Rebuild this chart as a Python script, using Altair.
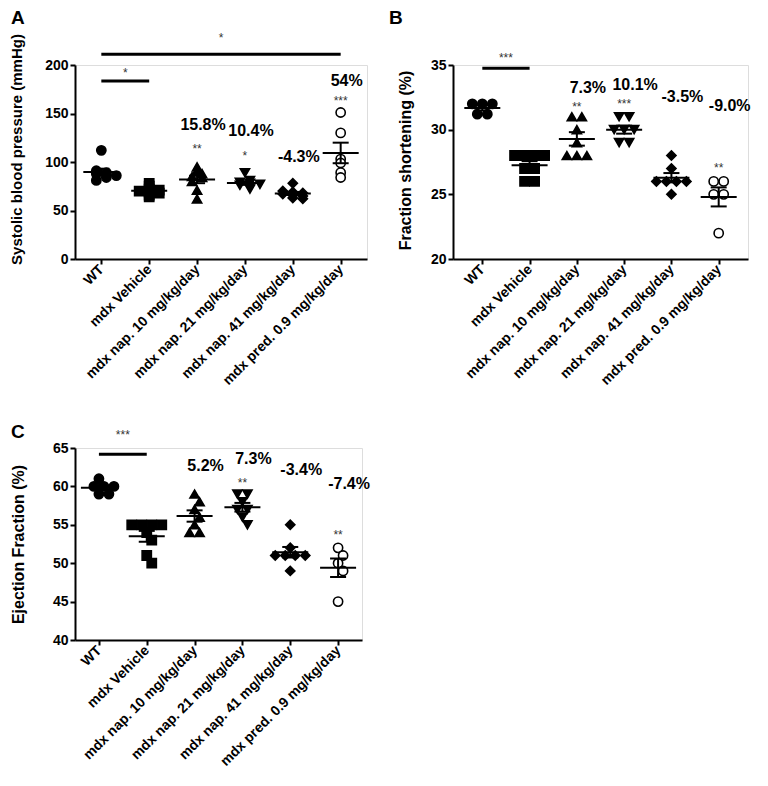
import altair as alt
import pandas as pd

FONT = "Liberation Sans"

groups = ["WT", "mdx Vehicle", "mdx nap. 10 mg/kg/day", "mdx nap. 21 mg/kg/day",
          "mdx nap. 41 mg/kg/day", "mdx pred. 0.9 mg/kg/day"]
shapes = ["circle", "square", "triangle-up", "triangle-down", "diamond", "circle"]
fills = ["black", "black", "black", "black", "black", "white"]

# Panel A: systolic blood pressure (mmHg)
sbp_wt = [112, 91, 89, 88, 87, 86, 84, 81]
sbp_veh = [78, 75, 72, 71, 70, 69, 68, 66, 64]
sbp_n10 = [95, 91, 88, 85, 84, 80, 71, 62]
sbp_n21 = [89, 81, 79, 78, 77, 76, 74, 72]
sbp_n41 = [78, 70, 69, 68, 67, 66, 65, 63, 62]
sbp_pred = [151, 130, 103, 99, 89, 84]

# Panel B: fraction shortening (%)
fs_wt = [32, 32, 32, 31.2, 31.2]
fs_veh = [28, 28, 28, 28, 27, 27, 26, 26]
fs_n10 = [31, 31, 30, 29, 28, 28, 28]
fs_n21 = [31, 31, 30, 30, 30, 29, 29]
fs_n41 = [28, 27, 26, 26, 26, 26, 25]
fs_pred = [26, 26, 25, 25, 22]

# Panel C: ejection fraction (%)
ef_wt = [61, 60, 60, 60, 59, 59]
ef_veh = [55, 55, 55, 55, 54, 53, 51, 50]
ef_n10 = [59, 58, 57, 56, 55, 54, 54]
ef_n21 = [59, 59, 58, 57, 57, 56, 55]
ef_n41 = [55, 52, 51, 51, 51, 51, 49]
ef_pred = [52, 51, 50, 49, 45]

# annotations
a_pct_groups = ["mdx nap. 10 mg/kg/day", "mdx nap. 21 mg/kg/day", "mdx nap. 41 mg/kg/day", "mdx pred. 0.9 mg/kg/day"]
a_pct_text = ["15.8%", "10.4%", "-4.3%", "54%"]
a_pct_y = [138, 132, 105, 183]
a_star_groups = ["mdx nap. 10 mg/kg/day", "mdx nap. 21 mg/kg/day", "mdx pred. 0.9 mg/kg/day"]
a_star_text = ["**", "*", "***"]
a_star_y = [117, 109, 166]
a_line_from = ["WT", "WT"]
a_line_to = ["mdx Vehicle", "mdx pred. 0.9 mg/kg/day"]
a_line_y = [183.5, 211]
a_line_star_anchor = ["WT", "mdx nap. 10 mg/kg/day"]
a_line_star_text = ["*", "*"]
a_line_star_y = [195, 231]

b_pct_groups = ["mdx nap. 10 mg/kg/day", "mdx nap. 21 mg/kg/day", "mdx nap. 41 mg/kg/day", "mdx pred. 0.9 mg/kg/day"]
b_pct_text = ["7.3%", "10.1%", "-3.5%", "-9.0%"]
b_pct_y = [33.2, 33.45, 32.5, 31.8]
b_star_groups = ["mdx nap. 10 mg/kg/day", "mdx nap. 21 mg/kg/day", "mdx pred. 0.9 mg/kg/day"]
b_star_text = ["**", "***", "**"]
b_star_y = [31.95, 32.2, 27.3]
b_line_from = ["WT"]
b_line_to = ["mdx Vehicle"]
b_line_y = [34.74]
b_line_star_anchor = ["WT"]
b_line_star_text = ["***"]
b_line_star_y = [35.8]

c_pct_groups = ["mdx nap. 10 mg/kg/day", "mdx nap. 21 mg/kg/day", "mdx nap. 41 mg/kg/day", "mdx pred. 0.9 mg/kg/day"]
c_pct_text = ["5.2%", "7.3%", "-3.4%", "-7.4%"]
c_pct_y = [62.65, 63.6, 62.1, 60.3]
c_star_groups = ["mdx nap. 21 mg/kg/day", "mdx pred. 0.9 mg/kg/day"]
c_star_text = ["**", "**"]
c_star_y = [60.8, 54.0]
c_line_from = ["WT"]
c_line_to = ["mdx Vehicle"]
c_line_y = [64.2]
c_line_star_anchor = ["WT"]
c_line_star_text = ["***"]
c_line_star_y = [67.1]


def swarm(vals, ppu, binw, d=10.0):
    """GraphPad-like scatter: points in the same value row are spread symmetrically."""
    order = sorted(range(len(vals)), key=lambda i: -vals[i])
    rows = []
    for i in order:
        key = round(vals[i] / binw)
        if rows and rows[-1][0] == key:
            rows[-1][1].append(i)
        else:
            rows.append((key, [i]))
    offs = [0.0] * len(vals)
    placed = []
    for key, idx in rows:
        k = len(idx)
        base = [(j - (k - 1) / 2) * d for j in range(k)]
        best = None
        for shift in (0.0, d / 2, -d / 2):
            coll = 0
            for j, ii in enumerate(idx):
                for (px, py) in placed:
                    dx = base[j] + shift - px
                    dy = vals[ii] * ppu - py
                    if dx * dx + dy * dy < (0.8 * d) ** 2:
                        coll += 1
            if best is None or coll < best[0]:
                best = (coll, shift)
        for j, ii in enumerate(idx):
            offs[ii] = base[j] + best[1]
            placed.append((offs[ii], vals[ii] * ppu))
    return offs


def panel(series, domain, tickvals, title, titlex, titley, titlesize, width, height, pad, binw,
          letter, letter_y, pct, stars, lines, line_stars, pct_dx):
    ppu = height / (domain[1] - domain[0])
    rows = []
    for g, vals in zip(groups, series):
        offs = swarm(vals, ppu, binw)
        for v, o in zip(vals, offs):
            rows.append({"group": g, "value": v, "off": o})
    df = pd.DataFrame(rows)

    xaxis = alt.Axis(title=None, labelAngle=-45, labelAlign="right",
                     labelBaseline="middle", labelPadding=3,
                     labelFontSize=14, labelFont=FONT, labelFontWeight="bold",
                     labelColor="black", domainColor="black", domainWidth=2,
                     tickColor="black", tickWidth=2, tickSize=5, labelLimit=300,
                     labelOverlap=False)
    xscale = alt.Scale(type="point", padding=pad, domain=groups)
    yaxis = alt.Axis(title=title, values=tickvals, titleX=titlex, titleY=titley,
                     titleFontSize=titlesize, titleFont=FONT, titleFontWeight="bold",
                     titleColor="black", titleBaseline="alphabetic",
                     labelFontSize=14, labelFont=FONT, labelFontWeight="bold",
                     labelColor="black", labelPadding=2, domainColor="black",
                     domainWidth=2, tickColor="black", tickWidth=2, tickSize=5,
                     grid=False, labelOverlap=False, labelBound=False)
    yscale = alt.Scale(domain=domain, nice=False, zero=False)

    def X(f):
        return alt.X(f, sort=groups, scale=xscale, axis=xaxis)

    def Y(f):
        return alt.Y(f, scale=yscale, axis=yaxis)

    base = alt.Chart(df)
    pts = base.mark_point(size=85, opacity=1, strokeWidth=1.6, stroke="black").encode(
        x=X("group:N"), y=Y("value:Q"),
        xOffset=alt.XOffset("off:Q", scale=None),
        shape=alt.Shape("group:N", scale=alt.Scale(domain=groups, range=shapes), legend=None),
        fill=alt.Fill("group:N", scale=alt.Scale(domain=groups, range=fills), legend=None),
    )

    agg = base.transform_aggregate(
        mean="mean(value)", sem="stderr(value)", groupby=["group"]
    ).transform_calculate(lo="datum.mean - datum.sem", hi="datum.mean + datum.sem")
    mean_tick = agg.mark_tick(color="black", thickness=2, size=36, opacity=1).encode(
        x=X("group:N"), y=Y("mean:Q"))
    hi_tick = agg.mark_tick(color="black", thickness=2, size=16, opacity=1).encode(
        x=X("group:N"), y=Y("hi:Q"))
    lo_tick = agg.mark_tick(color="black", thickness=2, size=16, opacity=1).encode(
        x=X("group:N"), y=Y("lo:Q"))
    vrule = agg.mark_rule(color="black", strokeWidth=2).encode(
        x=X("group:N"), y=Y("lo:Q"), y2="hi:Q")

    pct_df = pd.DataFrame({"group": pct[0], "text": pct[1], "y": pct[2]})
    pct_layer = alt.Chart(pct_df).mark_text(
        font=FONT, fontWeight="bold", fontSize=16, color="black", dx=pct_dx,
        baseline="middle", align="center").encode(
        x=X("group:N"), y=Y("y:Q"), text="text:N")

    st_df = pd.DataFrame({"group": stars[0], "text": stars[1], "y": stars[2]})
    st_layer = alt.Chart(st_df).mark_text(
        font=FONT, fontSize=12, color="#333333", dy=3, baseline="middle",
        align="center").encode(x=X("group:N"), y=Y("y:Q"), text="text:N")

    ln_df = pd.DataFrame({"a": lines[0], "b": lines[1], "y": lines[2]})
    ln_layer = alt.Chart(ln_df).mark_rule(color="black", strokeWidth=3).encode(
        x=X("a:N"), x2="b:N", y=Y("y:Q"))

    step = width / (len(groups) - 1 + 2 * pad)
    ls_df = pd.DataFrame({"group": line_stars[0], "text": line_stars[1], "y": line_stars[2]})
    ls_layer = alt.Chart(ls_df).mark_text(
        font=FONT, fontSize=12, color="#333333", dy=3, dx=step / 2, baseline="middle",
        align="center").encode(x=X("group:N"), y=Y("y:Q"), text="text:N")

    let = alt.Chart(alt.Data(values=[{"t": letter}])).mark_text(
        font=FONT, fontWeight="bold", fontSize=19, color="black", align="left",
        baseline="top").encode(x=alt.value(-64), y=alt.value(letter_y), text="t:N")

    return alt.layer(pts, ln_layer, ls_layer, pct_layer, st_layer, vrule, hi_tick, lo_tick,
                     mean_tick, let).properties(width=width, height=height)


A = panel([sbp_wt, sbp_veh, sbp_n10, sbp_n21, sbp_n41, sbp_pred], [0, 200],
          [0, 50, 100, 150, 200], "Systolic blood pressure (mmHg)", -54, 84, 15, 292, 194, 0.55, 3,
          "A", -56, (a_pct_groups, a_pct_text, a_pct_y),
          (a_star_groups, a_star_text, a_star_y),
          (a_line_from, a_line_to, a_line_y),
          (a_line_star_anchor, a_line_star_text, a_line_star_y), 6)
B = panel([fs_wt, fs_veh, fs_n10, fs_n21, fs_n41, fs_pred], [20, 35],
          [20, 25, 30, 35], "Fraction shortening (%)", -43, 95, 16, 295, 194, 0.62, 0.5,
          "B", -56, (b_pct_groups, b_pct_text, b_pct_y),
          (b_star_groups, b_star_text, b_star_y),
          (b_line_from, b_line_to, b_line_y),
          (b_line_star_anchor, b_line_star_text, b_line_star_y), 11)
C = panel([ef_wt, ef_veh, ef_n10, ef_n21, ef_n41, ef_pred], [40, 65],
          [40, 45, 50, 55, 60, 65], "Ejection Fraction (%)", -52, 96, 16, 287, 192, 0.5, 0.5,
          "C", -25, (c_pct_groups, c_pct_text, c_pct_y),
          (c_star_groups, c_star_text, c_star_y),
          (c_line_from, c_line_to, c_line_y),
          (c_line_star_anchor, c_line_star_text, c_line_star_y), 11)

chart = alt.concat(A, B, C, columns=2, spacing={"row": 189, "column": 86}).properties(
    bounds="flush", padding=0
).configure_view(stroke=None).configure(background="white")

chart.save("out.html", embed_options={"renderer": "svg", "actions": False})
